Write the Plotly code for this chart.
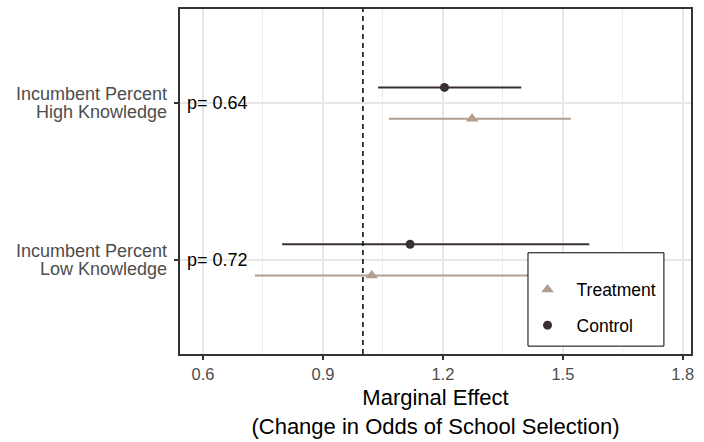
import plotly.graph_objects as go

# Outcome categories (bottom to top) and their two-line axis labels
categories = ["Incumbent Percent Low Knowledge", "Incumbent Percent High Knowledge"]
label_lines = [["Incumbent Percent", "Low Knowledge"], ["Incumbent Percent", "High Knowledge"]]
p_labels = ["p= 0.72", "p= 0.64"]

# Marginal effects (odds ratios) with 95% intervals, ordered like `categories`
control_est = [1.118, 1.204]
control_lo = [0.798, 1.038]
control_hi = [1.566, 1.396]

treatment_est = [1.022, 1.273]
treatment_lo = [0.730, 1.065]
treatment_hi = [1.430, 1.520]

x_ticks = [0.6, 0.9, 1.2, 1.5, 1.8]

CONTROL_COLOR = "#3B3030"
TREATMENT_COLOR = "#B39D8F"
FONT = "Liberation Sans, Arial, sans-serif"
DODGE = 0.1

base_pos = list(range(1, len(categories) + 1))

fig = go.Figure()


def add_series(name, est, lo, hi, offset, color, symbol, size):
    fig.add_trace(go.Scatter(
        x=est,
        y=[p + offset for p in base_pos],
        mode="markers",
        name=name,
        legendgroup=name,
        marker=dict(color=color, symbol=symbol, size=size, line=dict(width=0)),
        error_x=dict(
            type="data", symmetric=False,
            array=[h - e for h, e in zip(hi, est)],
            arrayminus=[e - l for e, l in zip(est, lo)],
            color=color, thickness=2, width=0,
        ),
    ))


add_series("Treatment", treatment_est, treatment_lo, treatment_hi, -DODGE,
           TREATMENT_COLOR, "triangle-up", 11)
add_series("Control", control_est, control_lo, control_hi, DODGE,
           CONTROL_COLOR, "circle", 9)

# Reference line at an odds ratio of 1
fig.add_shape(type="line", xref="x", yref="paper", x0=1, x1=1, y0=0, y1=1,
              line=dict(color="black", width=1.5, dash="5px,4px"), layer="above")

# Legend panel box
fig.add_shape(type="rect", xref="paper", yref="paper",
              x0=0.681, x1=0.947, y0=0.0228, y1=0.2934,
              line=dict(color="black", width=1), fillcolor="white", layer="above")

annotations = []
for pos, lines, p in zip(base_pos, label_lines, p_labels):
    annotations.append(dict(xref="paper", yref="y", x=0, y=pos, text=lines[0],
                            xanchor="right", yanchor="middle", showarrow=False,
                            xshift=-11, yshift=9,
                            font=dict(family=FONT, size=18, color="#4D4D4D")))
    annotations.append(dict(xref="paper", yref="y", x=0, y=pos, text=lines[1],
                            xanchor="right", yanchor="middle", showarrow=False,
                            xshift=-11, yshift=-9,
                            font=dict(family=FONT, size=18, color="#4D4D4D")))
    annotations.append(dict(xref="paper", yref="y", x=0, y=pos, text=p,
                            xanchor="left", yanchor="middle", showarrow=False,
                            xshift=5,
                            font=dict(family=FONT, size=18, color="black")))

fig.update_layout(
    width=704, height=442,
    margin=dict(l=180, r=13, t=7, b=84),
    plot_bgcolor="white", paper_bgcolor="white",
    font=dict(family=FONT),
    annotations=annotations,
    showlegend=True,
    legend=dict(
        x=0.6625, y=0.239, xanchor="left", yanchor="top",
        bgcolor="rgba(0,0,0,0)", borderwidth=0,
        font=dict(family=FONT, size=17.5, color="black"),
        tracegroupgap=10, traceorder="grouped", itemwidth=48,
    ),
    xaxis=dict(
        range=[0.5425, 1.8205],
        tickvals=x_ticks,
        ticktext=[f"{v:.1f}" for v in x_ticks],
        tickfont=dict(family=FONT, size=16.5, color="#4D4D4D"),
        ticks="outside", ticklen=4, tickwidth=1.5, tickcolor="#333333",
        showgrid=True, gridcolor="#E6E6E6", gridwidth=1.6,
        minor=dict(tickvals=[0.75, 1.05, 1.35, 1.65], showgrid=True,
                   gridcolor="#EDEDED", gridwidth=1),
        zeroline=False,
        showline=True, linecolor="#333333", linewidth=2, mirror=True,
        title=dict(text="Marginal Effect<br>(Change in Odds of School Selection)",
                   font=dict(family=FONT, size=22, color="black"), standoff=8),
    ),
    yaxis=dict(
        range=[0.4, 2.6],
        tickvals=base_pos,
        showticklabels=False,
        ticks="outside", ticklen=4, tickwidth=1.5, tickcolor="#333333",
        showgrid=True, gridcolor="#E6E6E6", gridwidth=1.6,
        zeroline=False,
        showline=True, linecolor="#333333", linewidth=2, mirror=True,
    ),
)

fig.write_html("out.html")
